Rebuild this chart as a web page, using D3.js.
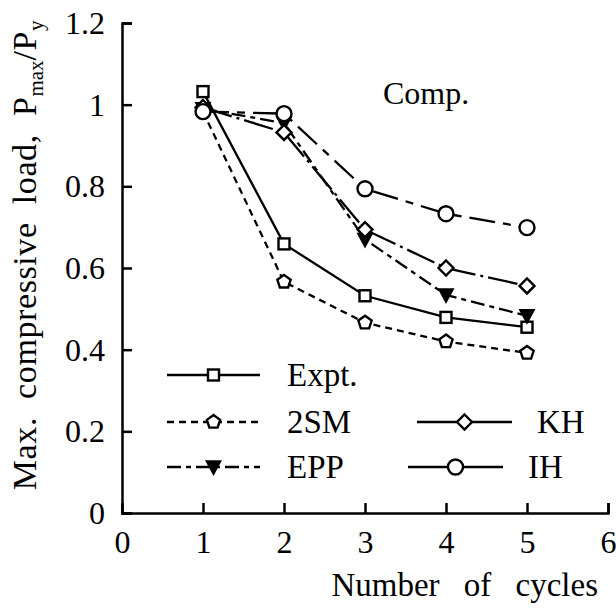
<!DOCTYPE html>
<html><head><meta charset="utf-8">
<script src="https://cdn.jsdelivr.net/npm/d3@7/dist/d3.min.js"></script>
<style>body{margin:0;background:#fff}text{font-family:"Liberation Serif","Times New Roman",serif;fill:#000}</style>
</head><body><svg id="c" width="616" height="610"></svg>
<script>
const cycles = [1, 2, 3, 4, 5];
const expt = [1.032, 0.659, 0.532, 0.479, 0.455];
const sm2 = [0.983, 0.566, 0.466, 0.420, 0.392];
const epp = [0.990, 0.955, 0.670, 0.534, 0.483];
const kh = [0.993, 0.932, 0.694, 0.600, 0.556];
const ih = [0.983, 0.978, 0.794, 0.733, 0.699];
const xTicks = [0, 1, 2, 3, 4, 5, 6];
const yTicks = [0, 0.2, 0.4, 0.6, 0.8, 1, 1.2];

const series = [
  {name: "Expt.", values: expt, dash: null, sym: "square"},
  {name: "2SM", values: sm2, dash: "7,5", sym: "pentagon"},
  {name: "EPP", values: epp, dash: "14,5,5,5", sym: "tri"},
  {name: "KH", values: kh, dash: "30,5,3,5", sym: "diamond"},
  {name: "IH", values: ih, dash: "26,8,8,8", sym: "circle"}
];

const svg = d3.select("#c");
const x = d3.scaleLinear().domain([0, 6]).range([122, 608]);
const y = d3.scaleLinear().domain([0, 1.2]).range([513, 23]);

// axes
const gx = svg.append("g").attr("transform", `translate(0,${y(0)})`)
  .call(d3.axisBottom(x).tickValues(xTicks).tickSize(-10).tickPadding(18).tickFormat(d3.format("d")));
const gy = svg.append("g").attr("transform", `translate(${x(0)},0)`)
  .call(d3.axisLeft(y).tickValues(yTicks).tickSize(-10).tickPadding(17).tickFormat(d => d === 0 ? "0" : d === 1 ? "1" : d3.format(".1f")(d)));
[gx, gy].forEach(g => {
  g.attr("font-family", null);
  g.select(".domain").attr("stroke", "#000").attr("stroke-width", 2.5);
  g.selectAll(".tick line").attr("stroke", "#000").attr("stroke-width", 2.5);
  g.selectAll(".tick text").attr("font-size", 32);
});
gx.selectAll(".tick text").attr("dy", "0.68em");
gy.selectAll(".tick text").attr("dy", "0.33em");

// axis labels
svg.append("text").attr("x", 598).attr("y", 596).attr("text-anchor", "end")
  .attr("font-size", 33).attr("word-spacing", 16).text("Number of cycles");
const yl = svg.append("text").attr("transform", `translate(36,255) rotate(-90)`)
  .attr("text-anchor", "middle").attr("font-size", 34).attr("word-spacing", 9).attr("letter-spacing", 0.6);
yl.append("tspan").text("Max. compressive load,  P");
yl.append("tspan").attr("font-size", 21).attr("dy", 7).attr("letter-spacing", 0).text("max");
yl.append("tspan").attr("dy", -7).text("/P");
yl.append("tspan").attr("font-size", 21).attr("dy", 7).text("y");

svg.append("text").attr("x", 383).attr("y", 104).attr("font-size", 32).text("Comp.");

function drawSym(g, sym, cx, cy) {
  const s = g.append("g").attr("transform", `translate(${cx},${cy})`);
  const st = {fill: "#fff", stroke: "#000", "stroke-width": 2.4};
  let el;
  if (sym === "square") el = s.append("rect").attr("x", -5.5).attr("y", -5.5).attr("width", 11).attr("height", 11);
  else if (sym === "circle") el = s.append("circle").attr("r", 7.5);
  else if (sym === "diamond") el = s.append("path").attr("d", "M0,-7.5L7.5,0L0,7.5L-7.5,0Z");
  else if (sym === "tri") el = s.append("path").attr("d", "M-6.5,-5.5L6.5,-5.5L0,6.5Z");
  else if (sym === "pentagon") {
    const pts = d3.range(5).map(i => { const a = -Math.PI / 2 + i * 2 * Math.PI / 5; return [7 * Math.cos(a), 7 * Math.sin(a)]; });
    el = s.append("path").attr("d", "M" + pts.join("L") + "Z");
  }
  Object.entries(st).forEach(([k, v]) => el.attr(k, v));
  if (sym === "tri") el.attr("fill", "#000");
}

const line = d3.line().x((d, i) => x(cycles[i])).y(d => y(d));
series.forEach(s => {
  svg.append("path").datum(s.values).attr("d", line).attr("fill", "none")
    .attr("stroke", "#000").attr("stroke-width", 2.3).attr("stroke-dasharray", s.dash);
});
series.forEach(s => {
  s.values.forEach((v, i) => drawSym(svg, s.sym, x(cycles[i]), y(v)));
});

// legend
const legend = [
  {s: series[0], x1: 167, x2: 260, tx: 287, ty: 375},
  {s: series[1], x1: 167, x2: 260, tx: 287, ty: 422},
  {s: series[2], x1: 167, x2: 260, tx: 287, ty: 467},
  {s: series[3], x1: 417, x2: 512, tx: 537, ty: 422},
  {s: series[4], x1: 408, x2: 503, tx: 528, ty: 467}
];
legend.forEach(l => {
  const dash = l.s.sym === "diamond" || l.s.sym === "circle" ? null : l.s.dash;
  svg.append("line").attr("x1", l.x1).attr("x2", l.x2).attr("y1", l.ty).attr("y2", l.ty)
    .attr("stroke", "#000").attr("stroke-width", 2.3).attr("stroke-dasharray", dash);
  drawSym(svg, l.s.sym, (l.x1 + l.x2) / 2, l.ty);
  svg.append("text").attr("x", l.tx).attr("y", l.ty + 11).attr("font-size", 33).text(l.s.name);
});

svg.selectAll("text").style("font-family", '"Liberation Serif", "Times New Roman", serif');
</script></body></html>
